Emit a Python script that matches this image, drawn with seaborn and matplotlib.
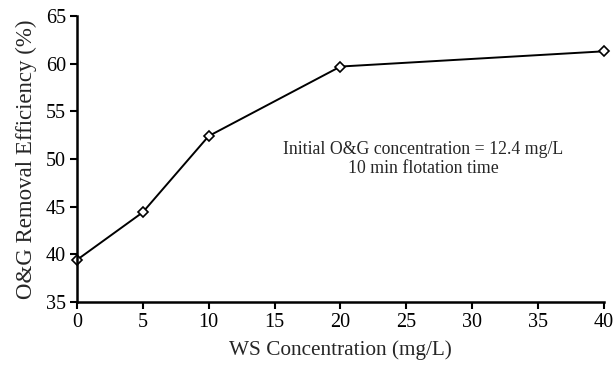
import matplotlib
matplotlib.use("Agg")
import matplotlib.pyplot as plt
import seaborn as sns
import pandas as pd

# WS dose (mg/L) and O&G removal efficiency (%)
ws_conc = [0, 5, 10, 20, 40]
removal = [39.4, 44.4, 52.4, 59.7, 61.3]
x_ticks = [0, 5, 10, 15, 20, 25, 30, 35, 40]
y_ticks = [35, 40, 45, 50, 55, 60, 65]

df = pd.DataFrame({"ws": ws_conc, "eff": removal})

sns.set_style("ticks")
plt.rcParams["font.family"] = ["Liberation Serif", "DejaVu Serif"]

fig = plt.figure(figsize=(6.15, 3.65), dpi=100)
ax = fig.add_axes([0.125, 0.173, 0.857, 0.783])

sns.lineplot(data=df, x="ws", y="eff", ax=ax, color="black", linewidth=1.4,
             marker="D", markersize=5, markerfacecolor="white",
             markeredgecolor="black", markeredgewidth=1.2, clip_on=False)

ax.set_xlim(0, 40)
ax.set_ylim(35, 65)
ax.set_xticks(x_ticks)
ax.set_yticks(y_ticks)
ax.tick_params(axis="both", labelsize=14.5, width=1.5, length=5, direction="out",
               colors="black", pad=3)
for s in ("left", "bottom"):
    ax.spines[s].set_linewidth(1.8)
    ax.spines[s].set_color("black")
for s in ("top", "right"):
    ax.spines[s].set_visible(False)

ax.set_xlabel("WS Concentration (mg/L)", fontsize=15.3, labelpad=6)
ax.set_ylabel("O&G Removal Efficiency (%)", fontsize=16.5, labelpad=6)

ax.text(26.3, 50.0, "Initial O&G concentration = 12.4 mg/L\n10 min flotation time",
        ha="center", va="center", fontsize=12.8, linespacing=1.2)

fig.savefig("out.png", dpi=100)
